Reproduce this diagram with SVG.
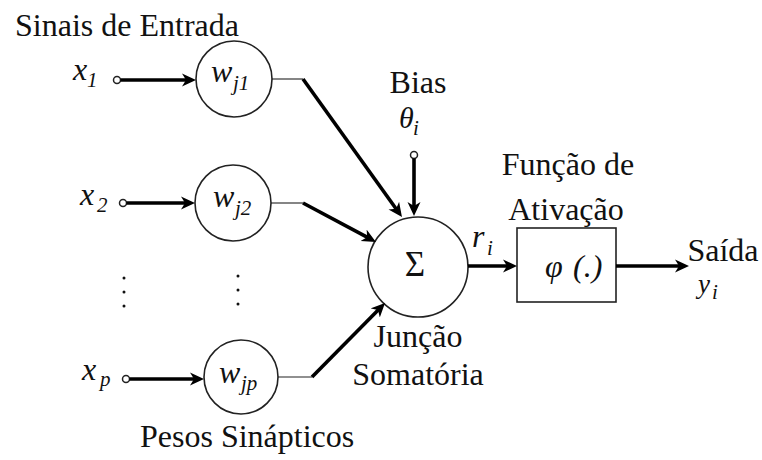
<svg xmlns="http://www.w3.org/2000/svg" width="762" height="460" viewBox="0 0 762 460">
<defs>
<style>
text{fill:#111;font-family:"Liberation Serif","DejaVu Serif","Noto Serif",serif}
.lbl{font-size:32px}
.it{font-style:italic}
.sub{font-size:21px;font-style:italic}
.node{fill:#fff;stroke:#222;stroke-width:1.6}
.thin{fill:none;stroke:#222;stroke-width:1.1}
.thick{fill:none;stroke:#000;stroke-width:3.6;marker-end:url(#ah)}
.term{fill:#fff;stroke:#222;stroke-width:1.5}
.dot{fill:#111}
</style>
<marker id="ah" markerUnits="userSpaceOnUse" viewBox="0 -7 16 14" markerWidth="16" markerHeight="14" refX="6" refY="0" orient="auto">
<path d="M0,-6.5 L14,0 L0,6.5 L4,0 Z" fill="#000"/>
</marker>
</defs>

<text class="lbl" x="15" y="36">Sinais de Entrada</text>
<text class="lbl" x="140" y="447">Pesos Sinápticos</text>

<g id="x1">
<text class="lbl it" x="73" y="80">x</text><text class="sub" x="87" y="87">1</text>
<circle class="term" cx="117" cy="80" r="3.5"/>
</g>
<g id="x2">
<text class="lbl it" x="80" y="205">x</text><text class="sub" x="97" y="212">2</text>
<circle class="term" cx="123" cy="203" r="3.5"/>
</g>
<g id="xp">
<text class="lbl it" x="82" y="380">x</text><text class="sub" x="100" y="386">p</text>
<circle class="term" cx="126" cy="379" r="3.5"/>
</g>

<g id="dots">
<circle class="dot" cx="124" cy="278" r="1.5"/><circle class="dot" cx="124" cy="292" r="1.5"/><circle class="dot" cx="124" cy="306" r="1.5"/>
<circle class="dot" cx="238" cy="276" r="1.5"/><circle class="dot" cx="238" cy="290" r="1.5"/><circle class="dot" cx="238" cy="304" r="1.5"/>
</g>

<g id="wj1">
<circle class="node" cx="234" cy="79" r="38"/>
<text class="lbl it" x="211" y="82">w</text><text class="sub" x="233" y="90">j1</text>
</g>
<g id="wj2">
<circle class="node" cx="233" cy="203" r="38"/>
<text class="lbl it" x="213" y="207">w</text><text class="sub" x="235" y="215">j2</text>
</g>
<g id="wjp">
<circle class="node" cx="241" cy="377" r="37"/>
<text class="lbl it" x="219" y="383">w</text><text class="sub" x="241" y="390">jp</text>
</g>

<g id="sum">
<circle class="node" cx="418" cy="267" r="50"/>
<text x="415" y="276" font-size="35" text-anchor="middle">Σ</text>
<text class="lbl" x="418" y="347" text-anchor="middle">Junção</text>
<text class="lbl" x="418" y="385" text-anchor="middle">Somatória</text>
</g>

<g id="bias">
<text class="lbl" x="418" y="93" text-anchor="middle">Bias</text>
<text class="it" x="399" y="128" font-size="30">θ</text><text class="sub" x="413" y="135">i</text>
<circle class="term" cx="414" cy="155" r="3.5"/>
</g>

<g id="activation">
<rect class="node" x="517" y="228" width="99" height="74"/>
<text class="lbl it" x="545" y="277">φ</text><text class="lbl it" x="573" y="277">(.)</text>
<text class="lbl" x="568" y="175" text-anchor="middle">Função de</text>
<text class="lbl" x="566" y="220" text-anchor="middle">Ativação</text>
</g>

<g id="output">
<text class="lbl" x="723" y="261" text-anchor="middle">Saída</text>
<text class="it" x="698" y="293" font-size="27">y</text><text class="sub" x="712" y="299">i</text>
</g>

<g id="r">
<text class="lbl it" x="472" y="247">r</text><text class="sub" x="487" y="255">i</text>
</g>

<g id="connectors">
<path class="thick" d="M120.5,80 H188"/>
<path class="thick" d="M126.5,203 H187"/>
<path class="thick" d="M129.5,379 H196"/>
<path class="thin" d="M272,79 H303"/>
<path class="thin" d="M271,203 H303"/>
<path class="thin" d="M278,377 H312"/>
<path class="thick" d="M303,79 L397.3,210.5"/>
<path class="thick" d="M303,203 L368.9,238.2"/>
<path class="thick" d="M312,377 L379.4,308.7"/>
<path class="thick" d="M414,158.5 V208"/>
<path class="thick" d="M468,266 H509"/>
<path class="thick" d="M616,266 H681"/>
</g>
</svg>
